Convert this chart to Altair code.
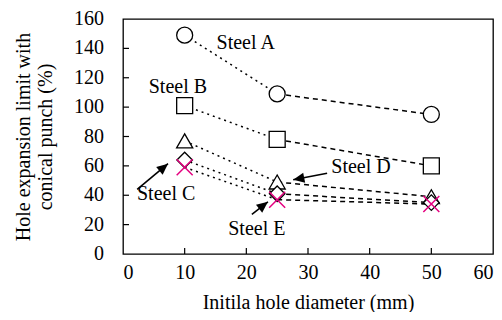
import math
import altair as alt
import pandas as pd

# ---- data ----
diam = [10, 25, 50]
steel_names = ["Steel A", "Steel B", "Steel C", "Steel D", "Steel E"]
steel_a = [149, 109, 95]
steel_b = [101, 78, 60]
steel_c = [64, 41, 35]
steel_d = [77, 49, 39]
steel_e = [59, 37, 34]
series_values = [steel_a, steel_b, steel_c, steel_d, steel_e]

label_text = ["Steel A", "Steel B", "Steel C", "Steel D", "Steel E"]
label_x = [19.9, 8.9, 7.0, 38.6, 21.7]
label_y = [144, 114, 41, 59, 17]

arrow_x0 = [2.3, 33.1, 20.9]
arrow_y0 = [44, 55, 27]
arrow_x1 = [7.3, 27.6, 23.5]
arrow_y1 = [61.5, 50.5, 35.5]

x_ticks = [10, 20, 30, 40, 50]
y_ticks = [20, 40, 60, 80, 100, 120, 140]
x_labels = [0, 10, 20, 30, 40, 50, 60]
y_labels = [0, 20, 40, 60, 80, 100, 120, 140, 160]

W, H = 370, 235
XMAX, YMAX = 60, 160
FONT = "Liberation Serif"

rows = []
for name, vals in zip(steel_names, series_values):
    for d, v in zip(diam, vals):
        rows.append({"steel": name, "d": d, "v": v})
df = pd.DataFrame(rows)

ang = []
for x0, y0, x1, y1 in zip(arrow_x0, arrow_y0, arrow_x1, arrow_y1):
    dx = (x1 - x0) * W / XMAX
    dy = -(y1 - y0) * H / YMAX
    ang.append(math.degrees(math.atan2(dx, -dy)) % 360)
arrows = pd.DataFrame({"x0": arrow_x0, "y0": arrow_y0, "x1": arrow_x1, "y1": arrow_y1, "ang": ang})
labels = pd.DataFrame({"t": label_text, "x": label_x, "y": label_y})

xs = alt.Scale(domain=[0, XMAX], nice=False)
ys = alt.Scale(domain=[0, YMAX], nice=False)
xaxis = alt.Axis(values=x_labels, labelPadding=8, labelOverlap=False,
                 title="Initila hole diameter (mm)", titlePadding=10)
yaxis = alt.Axis(values=y_labels, labels=False,
                 title=["Hole expansion limit with", "conical punch (%)"], titlePadding=68)

base = alt.Chart(df)
X = alt.X("d:Q", scale=xs, axis=xaxis)
Y = alt.Y("v:Q", scale=ys, axis=yaxis)

line1 = base.transform_filter("datum.d <= 25").mark_line(
    color="black", strokeWidth=1.5, strokeDash=[2, 4]).encode(x=X, y=Y, detail="steel:N")
line2 = base.transform_filter("datum.d >= 25").mark_line(
    color="black", strokeWidth=1.5, strokeDash=[5, 4]).encode(x="d:Q", y="v:Q", detail="steel:N")

def pts(name, shape, size, color="black", fill="white"):
    return base.transform_filter(f"datum.steel == '{name}'").mark_point(
        shape=shape, size=size, filled=False, fill=fill, fillOpacity=1, stroke=color,
        strokeWidth=1.3, opacity=1).encode(x="d:Q", y="v:Q")

pA = pts("Steel A", "circle", 256)
pB = pts("Steel B", "square", 256)
pD = pts("Steel D", "triangle-up", 260)
pC = pts("Steel C", "diamond", 240)
pE = base.transform_filter("datum.steel == 'Steel E'").mark_point(
    shape="M-1,-1L1,1M-1,1L1,-1", size=256, filled=False, stroke="#E4007F",
    strokeWidth=1.5, opacity=1).encode(x="d:Q", y="v:Q")

ytick_layer = alt.Chart(pd.DataFrame({"v": y_ticks})).mark_rule(color="black", strokeWidth=1.2).encode(
    y="v:Q", x=alt.value(0), x2=alt.value(6))
xtick_layer = alt.Chart(pd.DataFrame({"d": x_ticks})).mark_rule(color="black", strokeWidth=1.2).encode(
    x="d:Q", y=alt.value(H), y2=alt.value(H - 6))

ylab_layer = alt.Chart(pd.DataFrame({"v": y_labels})).mark_text(
    font=FONT, fontSize=20, color="black", align="right", baseline="middle").encode(
    y="v:Q", x=alt.value(-19), text=alt.Text("v:Q", format="d"))

txt = alt.Chart(labels).mark_text(font=FONT, fontSize=20, fontWeight="normal", color="black",
                                  align="center", baseline="middle").encode(
    x="x:Q", y="y:Q", text="t:N")

arrow_line = alt.Chart(arrows).mark_rule(color="black", strokeWidth=1.6).encode(
    x="x0:Q", y="y0:Q", x2="x1:Q", y2="y1:Q")
arrow_head = alt.Chart(arrows).mark_point(shape="M0,0L0.45,1L-0.45,1Z", size=500, filled=True,
                                          color="black", opacity=1).encode(
    x="x1:Q", y="y1:Q", angle=alt.Angle("ang:Q", scale=None))

chart = alt.layer(line1, line2, pA, pB, pD, pC, pE, ytick_layer, xtick_layer, ylab_layer, txt,
                  arrow_line, arrow_head).properties(
    width=W, height=H,
    autosize=alt.AutoSizeParams(type="none"),
    padding={"left": 115, "top": 11, "right": 1, "bottom": 58},
).configure_view(stroke="black", strokeWidth=1.3).configure_axis(
    ticks=False, domain=False, grid=False,
    labelFont=FONT, labelFontSize=20, labelFontWeight="normal", labelColor="black",
    titleFont=FONT, titleFontSize=20, titleFontWeight="normal", titleColor="black",
)

chart.save("out.html", embed_options={"renderer": "svg", "actions": False})
